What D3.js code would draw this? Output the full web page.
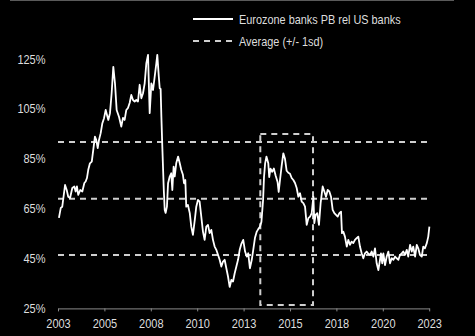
<!DOCTYPE html>
<html>
<head>
<meta charset="utf-8">
<script src="https://cdn.jsdelivr.net/npm/d3@7"></script>
<style>
  html, body { margin: 0; padding: 0; background: #000; }
  svg { display: block; }
  text { font-family: "Liberation Sans", Arial, sans-serif; }
</style>
</head>
<body>
<svg id="chart" width="475" height="336"></svg>
<script>
// Eurozone banks price-to-book relative to US banks (%), monthly
const dates = [
  2003.05, 2003.15, 2003.23, 2003.38, 2003.47, 2003.55, 2003.65, 2003.77, 2003.88, 2003.95,
  2004.02, 2004.09, 2004.20, 2004.31, 2004.42, 2004.49, 2004.56, 2004.63, 2004.72, 2004.82,
  2004.90, 2004.99, 2005.06, 2005.14, 2005.21, 2005.30, 2005.39, 2005.48, 2005.57, 2005.64,
  2005.71, 2005.80, 2005.89, 2005.98, 2006.07, 2006.16, 2006.29, 2006.41, 2006.50, 2006.59,
  2006.68, 2006.77, 2006.86, 2006.95, 2007.04, 2007.13, 2007.22, 2007.31, 2007.40, 2007.49,
  2007.58, 2007.67, 2007.76, 2007.85, 2007.94, 2008.03, 2008.12, 2008.21, 2008.30, 2008.35,
  2008.43, 2008.48, 2008.53, 2008.57, 2008.62, 2008.70, 2008.75, 2008.80, 2008.87, 2008.93,
  2009.02, 2009.10, 2009.16, 2009.23, 2009.29, 2009.37, 2009.47, 2009.56, 2009.64, 2009.73,
  2009.79, 2009.86, 2009.91, 2010.00, 2010.10, 2010.18, 2010.27, 2010.37, 2010.45, 2010.54,
  2010.63, 2010.72, 2010.81, 2010.90, 2010.99, 2011.08, 2011.17, 2011.26, 2011.35, 2011.44,
  2011.53, 2011.62, 2011.71, 2011.80, 2011.89, 2011.98, 2012.07, 2012.16, 2012.25, 2012.34,
  2012.43, 2012.52, 2012.61, 2012.70, 2012.79, 2012.88, 2012.98, 2013.08, 2013.17, 2013.25,
  2013.34, 2013.44, 2013.52, 2013.61, 2013.71, 2013.79, 2013.88, 2013.96, 2014.05, 2014.10,
  2014.16, 2014.23, 2014.33, 2014.38, 2014.45, 2014.54, 2014.63, 2014.72, 2014.83, 2014.89,
  2014.96, 2015.05, 2015.14, 2015.23, 2015.32, 2015.41, 2015.50, 2015.59, 2015.68, 2015.77,
  2015.86, 2015.95, 2016.04, 2016.13, 2016.22, 2016.31, 2016.40, 2016.49, 2016.58, 2016.67,
  2016.76, 2016.81, 2016.88, 2016.97, 2017.06, 2017.15, 2017.26, 2017.35, 2017.44, 2017.53,
  2017.62, 2017.71, 2017.80, 2017.89, 2017.98, 2018.07, 2018.16, 2018.25, 2018.30, 2018.37,
  2018.46, 2018.56, 2018.64, 2018.73, 2018.82, 2018.91, 2019.00, 2019.09, 2019.18, 2019.27,
  2019.36, 2019.45, 2019.54, 2019.63, 2019.72, 2019.81, 2019.90, 2019.99, 2020.08, 2020.17,
  2020.26, 2020.35, 2020.40, 2020.47, 2020.53, 2020.62, 2020.71, 2020.80, 2020.89, 2020.98,
  2021.07, 2021.16, 2021.25, 2021.34, 2021.43, 2021.52, 2021.60, 2021.70, 2021.79, 2021.87,
  2021.97, 2022.06, 2022.14, 2022.24, 2022.33, 2022.41, 2022.50, 2022.60, 2022.68, 2022.77,
  2022.87, 2022.95, 2023.01
];
const pbRel = [
  61.3, 65.3, 65.8, 74.5, 72.5, 69.8, 69.3, 73.3, 73.9, 71.9,
  73.9, 70.5, 72.5, 71.9, 75.3, 75.9, 77.3, 80.6, 83.2, 83.9,
  88.6, 93.9, 92.6, 89.3, 92.6, 95.3, 99.3, 101.3, 104.6, 102.6,
  100.6, 103.3, 111.3, 121.9, 115.3, 104.6, 101.8, 97.9, 101.4, 100.6,
  104.6, 105.4, 107.4, 110.6, 108.6, 108.0, 108.6, 108.0, 114.7, 109.3,
  111.3, 115.3, 123.4, 126.7, 103.3, 115.3, 112.6, 118.0, 123.4, 126.7,
  118.0, 113.3, 113.0, 101.9, 89.9, 72.5, 64.5, 63.3, 65.8, 75.2,
  77.9, 79.2, 72.5, 81.9, 77.9, 83.2, 85.9, 83.2, 80.6, 78.6,
  75.2, 76.5, 65.8, 66.5, 63.2, 57.8, 54.5, 60.5, 65.8, 68.5,
  67.8, 61.8, 55.8, 52.5, 57.8, 58.5, 55.2, 56.5, 52.5, 49.8,
  48.5, 46.5, 44.5, 41.8, 43.8, 44.5, 41.1, 37.8, 33.6, 36.4,
  35.8, 39.1, 41.8, 44.5, 48.5, 50.9, 52.5, 47.8, 45.8, 47.1,
  41.1, 44.5, 48.5, 53.2, 55.8, 56.8, 57.8, 59.7, 68.5, 77.7,
  83.2, 85.9, 83.2, 77.7, 81.1, 79.8, 81.1, 78.4, 75.7, 71.7,
  76.4, 82.2, 87.2, 85.0, 80.2, 79.4, 79.0, 77.3, 76.5, 75.3,
  73.3, 69.8, 71.2, 67.8, 67.2, 65.8, 58.5, 61.2, 61.8, 63.2,
  69.8, 59.2, 62.5, 63.2, 58.5, 67.2, 73.9, 71.9, 69.8, 72.5,
  71.9, 69.8, 64.5, 63.2, 62.5, 61.8, 63.2, 63.8, 55.2, 55.8,
  53.8, 49.8, 52.5, 50.5, 51.8, 51.2, 52.5, 53.2, 53.8, 49.8,
  47.1, 45.1, 47.1, 47.8, 46.9, 46.5, 47.8, 45.8, 49.1, 43.1,
  40.4, 44.5, 47.1, 43.1, 47.1, 42.4, 45.8, 47.8, 43.1, 45.1,
  44.5, 45.8, 45.1, 44.5, 46.5, 47.1, 47.8, 46.5, 48.5, 45.8,
  50.5, 47.8, 49.8, 45.8, 50.5, 49.1, 46.5, 45.8, 49.8, 49.1,
  51.2, 53.8, 57.8
];

// Long-run average and +/- one standard deviation bands (%)
const bandLevels = [46.4, 69.0, 91.7];

// Highlighted window (years, %)
const boxYears = [2013.9, 2016.74];
const boxRange = [26.4, 95.0];

// Axis ticks: every 2.5 years, labelled by whole year
const xTicks = [2003, 2005.5, 2008, 2010.5, 2013, 2015.5, 2018, 2020.5, 2023];
const yTicks = [25, 45, 65, 85, 105, 125];

const legendLabels = ["Eurozone banks PB rel US banks", "Average (+/- 1sd)"];

const svg = d3.select("#chart");
const textColor = "#dedede";
const dashColor = "#cfcfcf";
const narrow = 0.88; // horizontal squeeze of the label face

const x = d3.scaleLinear().domain([2003, 2023]).range([58, 429.2]);
const y = d3.scaleLinear().domain([25, 125]).range([308.4, 59.1]);

// top frame rule
svg.append("line")
  .attr("x1", 10).attr("x2", 454).attr("y1", 0.5).attr("y2", 0.5)
  .attr("stroke", "#5a5a5a").attr("stroke-width", 1);

// x axis
const xAxis = svg.append("g")
  .attr("transform", `translate(0,${y(25)})`)
  .call(d3.axisBottom(x).tickValues(xTicks).tickFormat(d => String(Math.floor(d)))
    .tickSizeInner(3).tickSizeOuter(0).tickPadding(8));
xAxis.select(".domain").attr("stroke", "#8a8a8a").attr("stroke-width", 1);
xAxis.selectAll(".tick line").attr("stroke", "#8a8a8a");
xAxis.selectAll(".tick text")
  .attr("fill", textColor).attr("font-size", 12.5)
  .attr("transform", `scale(${narrow},1)`);

// y axis labels only
const yAxis = svg.append("g")
  .attr("transform", "translate(58,0)")
  .call(d3.axisLeft(y).tickValues(yTicks).tickFormat(d => d + "%").tickSize(0).tickPadding(0));
yAxis.select(".domain").remove();
yAxis.selectAll(".tick text")
  .attr("fill", textColor).attr("font-size", 12.5)
  .attr("x", -12.5 / narrow)
  .attr("transform", `scale(${narrow},1)`);

// average and +/- 1sd lines
svg.append("g").selectAll("line").data(bandLevels).join("line")
  .attr("x1", x(2003)).attr("x2", x(2023))
  .attr("y1", d => y(d)).attr("y2", d => y(d))
  .attr("stroke", dashColor).attr("stroke-width", 2)
  .attr("stroke-dasharray", "6,5");

// highlighted window
svg.append("rect")
  .attr("x", x(boxYears[0])).attr("y", y(boxRange[1]))
  .attr("width", x(boxYears[1]) - x(boxYears[0]))
  .attr("height", y(boxRange[0]) - y(boxRange[1]))
  .attr("fill", "none").attr("stroke", dashColor).attr("stroke-width", 2)
  .attr("stroke-dasharray", "6,5");

// series
const series = dates.map((d, i) => ({ t: d, v: pbRel[i] }));
svg.append("path")
  .datum(series)
  .attr("fill", "none").attr("stroke", "#ffffff").attr("stroke-width", 1.8)
  .attr("stroke-linejoin", "round")
  .attr("d", d3.line().x(d => x(d.t)).y(d => y(d.v)));

// legend
const legend = svg.append("g");
legendLabels.forEach((label, i) => {
  const ly = 19 + i * 22;
  legend.append("line")
    .attr("x1", 193).attr("x2", 233).attr("y1", ly).attr("y2", ly)
    .attr("stroke", i === 0 ? "#ffffff" : dashColor).attr("stroke-width", 2)
    .attr("stroke-dasharray", i === 0 ? null : "6,5");
  legend.append("text")
    .attr("x", 239 / narrow).attr("y", ly + 5)
    .attr("transform", `scale(${narrow},1)`)
    .attr("fill", textColor).attr("font-size", 12.4)
    .text(label);
});
</script>
</body>
</html>
